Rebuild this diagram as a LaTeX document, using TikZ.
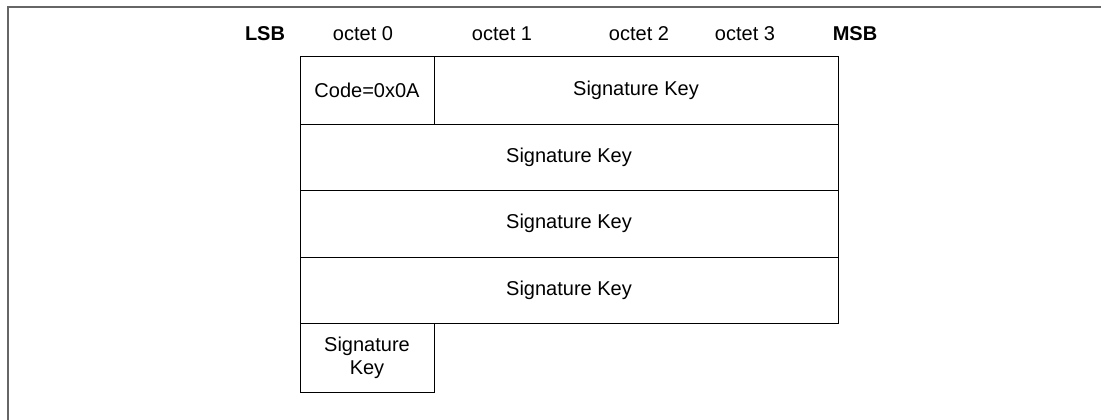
\documentclass[tikz,border=0pt]{standalone}
\usepackage{fontspec}
\setmainfont{Liberation Sans}
\begin{document}
\begin{tikzpicture}[
    x=1pt,y=-1pt,
    fieldBox/.style={draw=black,line width=1pt,rectangle,inner sep=0pt,align=center,font=\fontsize{20}{23}\selectfont},
    hdrLabel/.style={inner sep=0pt,font=\fontsize{20}{23}\selectfont},
    hdrBold/.style={hdrLabel,font=\fontsize{20}{23}\selectfont\bfseries},
    frameLine/.style={draw=black!60,line width=1.5pt},
]
\useasboundingbox (0,0) rectangle (1101,420);
\draw[frameLine] (8,420) -- (8,7) -- (1101,7);
% header row
\node[hdrBold] (lsbLbl) at (265,34) {LSB};
\node[hdrLabel] (oct0) at (363,34) {octet 0};
\node[hdrLabel] (oct1) at (502,34) {octet 1};
\node[hdrLabel] (oct2) at (639,34) {octet 2};
\node[hdrLabel] (oct3) at (745,34) {octet 3};
\node[hdrBold] (msbLbl) at (855,34) {MSB};
% fields
\node[fieldBox,minimum width=134pt,minimum height=67pt] (codeCell) at (367,90.5) {Code=0x0A};
\node[fieldBox,minimum width=404pt,minimum height=67pt] (keyA) at (636,90.5) {Signature Key};
\node[fieldBox,minimum width=538pt,minimum height=66pt] (keyB) at (569,157) {Signature Key};
\node[fieldBox,minimum width=538pt,minimum height=67pt] (keyC) at (569,223.5) {Signature Key};
\node[fieldBox,minimum width=538pt,minimum height=66pt] (keyD) at (569,290) {Signature Key};
\node[fieldBox,minimum width=134pt,minimum height=69pt] (keyE) at (367,357.5) {Signature\\Key};
\end{tikzpicture}
\end{document}
